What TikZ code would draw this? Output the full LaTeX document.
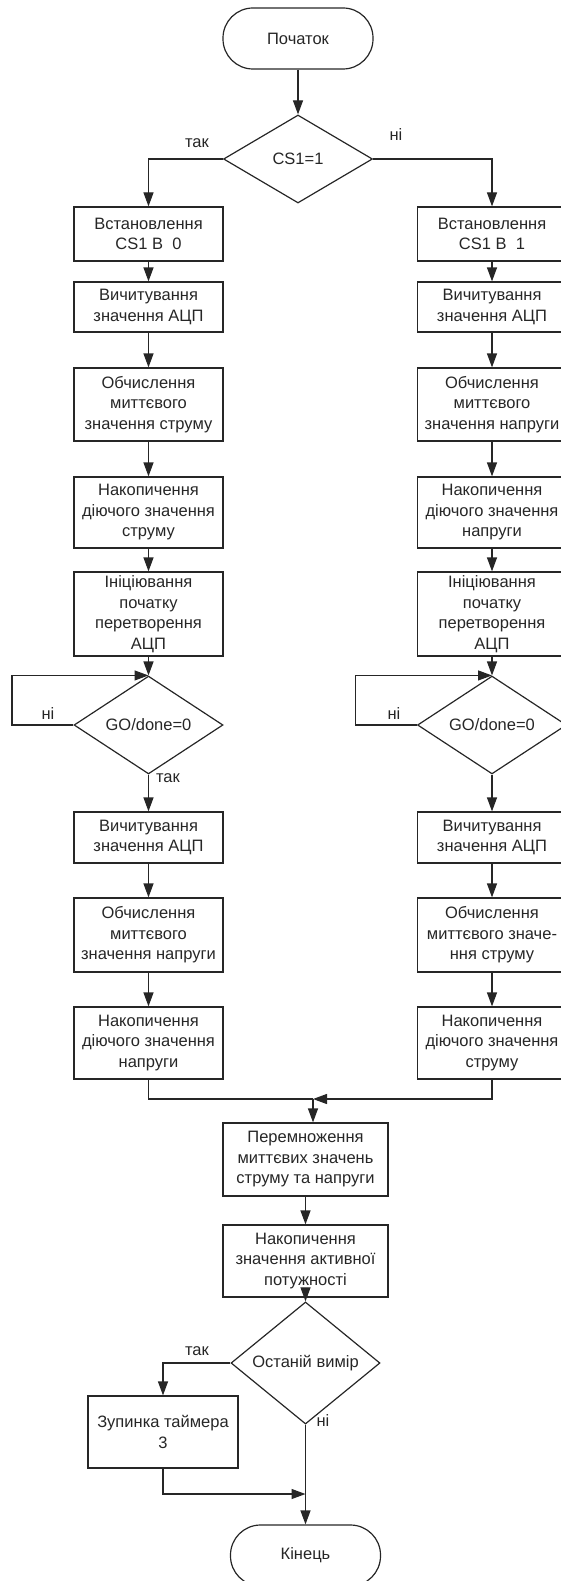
\documentclass[tikz,border=0pt]{standalone}
\usepackage{fontspec}
\setmainfont{Liberation Sans}
\usetikzlibrary{shapes.geometric,arrows.meta,positioning}

\tikzset{
  blok/.style={rectangle, draw, inner sep=0pt, align=center, minimum width=149pt},
  umova/.style={diamond, draw, inner sep=0pt, minimum width=149pt, minimum height=88pt},
  termin/.style={rectangle, rounded corners=30pt, draw, minimum width=150pt, minimum height=61pt},
  napys/.style={inner sep=0pt},
}

\begin{document}
\begin{tikzpicture}[x=1pt, y=-1pt, color=black!85, line width=1.2pt,
    >={Triangle[length=14pt,width=10pt]},
    every node/.style={font=\fontsize{16.5}{20.5}\selectfont, text=black!85}]
    \useasboundingbox (0,0) rectangle (560,1581);

    % start and first check
    \node[termin] (pochatok) at (298,38.5) {Початок};
    \node[umova] (cs) at (298,159) {CS1=1};
    \node[napys] (tak1) at (197,143) {так};
    \node[napys] (ni1) at (396,135) {ні};

    % left branch (CS1 = 1)
    \node[blok, minimum height=54pt] (l1) at (148.5,234) {Встановлення\\CS1 В~~0};
    \node[blok, minimum height=50pt] (l2) at (148.5,307) {Вичитування\\значення АЦП};
    \node[blok, minimum height=73pt] (l3) at (148.5,404.5) {Обчислення\\миттєвого\\значення струму};
    \node[blok, minimum height=71pt] (l4) at (148.5,512.5) {Накопичення\\діючого значення\\струму};
    \node[blok, minimum height=84pt] (l5) at (148.5,614) {Ініціювання\\початку\\перетворення\\АЦП};
    \node[umova] (gol) at (148.5,725) {GO/done=0};
    \node[napys] (nil) at (48,714) {ні};
    \node[napys] (takl) at (168,778) {так};
    \node[blok, minimum height=51pt] (l6) at (148.5,837.5) {Вичитування\\значення АЦП};
    \node[blok, minimum height=74pt] (l7) at (148.5,935) {Обчислення\\миттєвого\\значення напруги};
    \node[blok, minimum height=72pt] (l8) at (148.5,1043) {Накопичення\\діючого значення\\напруги};

    % right branch (CS1 = 0)
    \node[blok, minimum height=54pt] (r1) at (492,234) {Встановлення\\CS1 В~~1};
    \node[blok, minimum height=50pt] (r2) at (492,307) {Вичитування\\значення АЦП};
    \node[blok, minimum height=73pt] (r3) at (492,404.5) {Обчислення\\миттєвого\\значення напруги};
    \node[blok, minimum height=71pt] (r4) at (492,512.5) {Накопичення\\діючого значення\\напруги};
    \node[blok, minimum height=84pt] (r5) at (492,614) {Ініціювання\\початку\\перетворення\\АЦП};
    \node[umova] (gor) at (492,725) {GO/done=0};
    \node[napys] (nir) at (394,714) {ні};
    \node[blok, minimum height=51pt] (r6) at (492,837.5) {Вичитування\\значення АЦП};
    \node[blok, minimum height=74pt] (r7) at (492,935) {Обчислення\\миттєвого значе-\\ння струму};
    \node[blok, minimum height=72pt] (r8) at (492,1043) {Накопичення\\діючого значення\\струму};

    % common part
    \coordinate (zlyttia) at (313,1099);
    \node[blok, minimum width=165pt, minimum height=73pt] (perem) at (305.5,1159.5) {Перемноження\\миттєвих значень\\струму та напруги};
    \node[blok, minimum width=165pt, minimum height=72pt] (nakop) at (305.5,1261) {Накопичення\\значення активної\\потужності};
    \node[umova] (ostan) at (305.5,1363) {Останій вимір};
    \node[napys] (tak2) at (197,1351) {так};
    \node[napys] (ni2) at (323,1421) {ні};
    \node[blok, minimum width=150pt, minimum height=72pt] (zup) at (163,1432) {Зупинка таймера\\3};
    \coordinate (zbig) at (305.5,1494);
    \node[termin] (kinec) at (305.5,1555.5) {Кінець};

    \draw[->] (pochatok) -- (cs);
    \draw[->] (cs.west) -| (l1);
    \draw[->] (cs.east) -| (r1);

    \draw[->] (l1) -- (l2);
    \draw[->] (l2) -- (l3);
    \draw[->] (l3) -- (l4);
    \draw[->] (l4) -- (l5);
    \draw[->] (l5) -- (gol);
    \draw[->] (gol.west) -- ++(-61.5,0) |- (gol.north);
    \draw[->] (gol) -- (l6);
    \draw[->] (l6) -- (l7);
    \draw[->] (l7) -- (l8);

    \draw[->] (r1) -- (r2);
    \draw[->] (r2) -- (r3);
    \draw[->] (r3) -- (r4);
    \draw[->] (r4) -- (r5);
    \draw[->] (r5) -- (gor);
    \draw[->] (gor.west) -- ++(-61.5,0) |- (gor.north);
    \draw[->] (gor) -- (r6);
    \draw[->] (r6) -- (r7);
    \draw[->] (r7) -- (r8);

    \draw (l8) |- (zlyttia);
    \draw[->] (r8) |- (zlyttia);
    \draw[->] (zlyttia) -- (zlyttia |- perem.north);
    \draw[->] (perem) -- (nakop);
    \draw[->] (nakop) -- (ostan);
    \draw[->] (ostan.west) -| (zup);
    \draw[->] (ostan) -- (kinec);
    \draw[->] (zup) |- (zbig);

\end{tikzpicture}
\end{document}
